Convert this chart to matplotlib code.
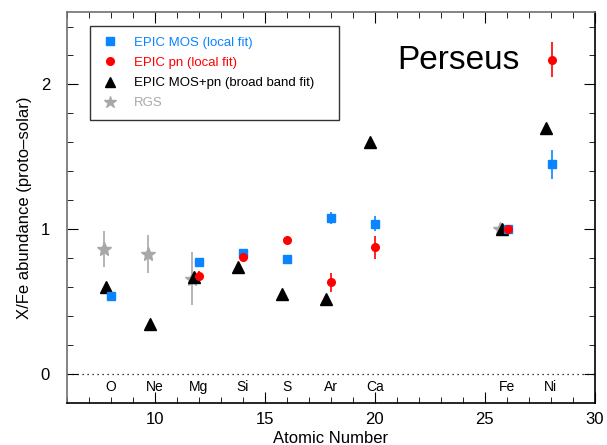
import matplotlib.pyplot as plt
from matplotlib.lines import Line2D
import numpy as np

plt.rcParams['font.family'] = ['Liberation Sans', 'DejaVu Sans']

elements = ['O', 'Ne', 'Mg', 'Si', 'S', 'Ar', 'Ca', 'Fe', 'Ni']
Z = [8, 10, 12, 14, 16, 18, 20, 26, 28]

# EPIC MOS (local fit)
mos_z = [8, 12, 14, 16, 18, 20, 26, 28]
mos_val = [0.54, 0.775, 0.84, 0.795, 1.08, 1.04, 1.0, 1.45]
mos_err = [0.01, 0.01, 0.01, 0.01, 0.04, 0.05, 0.0, 0.10]

# EPIC pn (local fit)
pn_z = [12, 14, 16, 18, 20, 26, 28]
pn_val = [0.68, 0.81, 0.925, 0.635, 0.877, 1.0, 2.17]
pn_err = [0.03, 0.01, 0.02, 0.065, 0.08, 0.0, 0.12]

# EPIC MOS+pn (broad band fit)
bb_z = [8, 10, 12, 14, 16, 18, 20, 26, 28]
bb_val = [0.60, 0.345, 0.67, 0.74, 0.555, 0.52, 1.60, 1.0, 1.70]

# RGS
rgs_z = [8, 10, 12, 26]
rgs_val = [0.866, 0.83, 0.66, 1.0]
rgs_err = [0.125, 0.13, 0.185, 0.0]

blue = '#0a84ff'
red = '#ff0000'
grey = '#a8a8a8'

fig = plt.figure(figsize=(6.07, 4.45), dpi=100)
ax = fig.add_axes([0.110, 0.094, 0.870, 0.879])

ax.axhline(0, color='k', ls=(0, (1, 3)), lw=0.9)

ax.errorbar(np.array(rgs_z) - 0.33, rgs_val, yerr=rgs_err, fmt='*', color=grey,
            ms=10, elinewidth=1.2, capsize=0, zorder=3)
ax.plot(np.array(bb_z) - 0.22, bb_val, '^', color='k', ms=8, zorder=4)
ax.errorbar(np.array(mos_z) + 0.03, mos_val, yerr=mos_err, fmt='s', color=blue,
            ms=5.5, elinewidth=1.2, capsize=0, zorder=5)
ax.errorbar(np.array(pn_z) + 0.03, pn_val, yerr=pn_err, fmt='o', color=red,
            ms=5.5, elinewidth=1.2, capsize=0, zorder=6)

for z, el in zip(Z, elements):
    ax.text(z, -0.09, el, ha='center', va='center', fontsize=10)

ax.text(0.742, 0.877, 'Perseus', transform=ax.transAxes, fontsize=24,
        ha='center', va='center')

ax.set_xlim(6, 30)
ax.set_ylim(-0.2, 2.5)
ax.set_xticks([10, 15, 20, 25, 30])
ax.set_xticks(np.arange(6, 31, 1), minor=True)
ax.set_yticks([0, 1, 2])
ax.set_yticks(np.arange(0, 2.5, 0.2), minor=True)
ax.tick_params(which='both', direction='in', top=True, right=True, labelsize=12)
ax.tick_params(which='major', length=8)
ax.tick_params(which='minor', length=4)
ax.tick_params(axis='y', pad=12)
ax.tick_params(axis='x', pad=6)
ax.set_xlabel('Atomic Number', fontsize=12, labelpad=3)
ax.set_ylabel('X/Fe abundance (proto\u2013solar)', fontsize=12, labelpad=6)

for s in ['left', 'top']:
    ax.spines[s].set_color('#707070')
for s in ax.spines.values():
    s.set_linewidth(1.2)

handles = [
    Line2D([], [], ls='none', marker='s', color=blue, ms=5.5),
    Line2D([], [], ls='none', marker='o', color=red, ms=5.5),
    Line2D([], [], ls='none', marker='^', color='k', ms=7.5),
    Line2D([], [], ls='none', marker='*', color=grey, ms=9),
]
labels = ['EPIC MOS (local fit)', 'EPIC pn (local fit)',
          'EPIC MOS+pn (broad band fit)', 'RGS']
leg = ax.legend(handles, labels, loc='upper left', mode='expand',
                bbox_to_anchor=(0.044, 0.5, 0.472, 0.464), borderaxespad=0,
                fontsize=9.5, frameon=True, fancybox=False, edgecolor='k',
                handlelength=1.5, handletextpad=1.0,
                borderpad=0.8, labelspacing=0.6)
leg.get_frame().set_linewidth(1.0)
for t, c in zip(leg.get_texts(), [blue, red, 'k', grey]):
    t.set_color(c)

fig.savefig('out.png', dpi=100)
